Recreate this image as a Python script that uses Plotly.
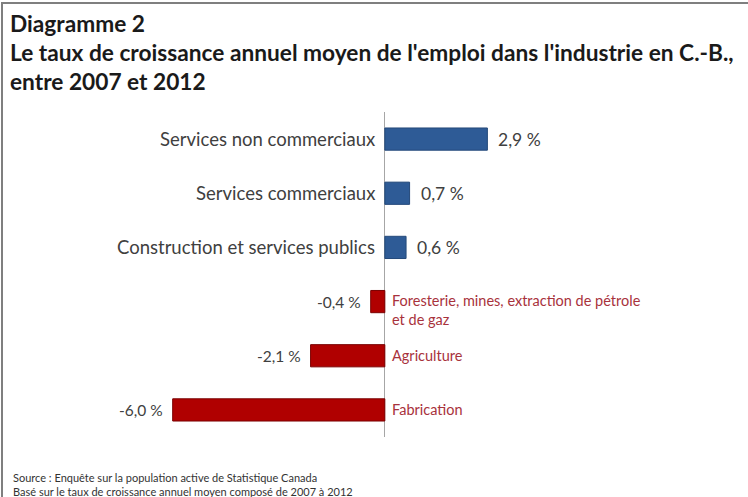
import plotly.graph_objects as go

# Data
categories = [
    "Services non commerciaux",
    "Services commerciaux",
    "Construction et services publics",
    "Foresterie, mines, extraction de pétrole<br>et de gaz",
    "Agriculture",
    "Fabrication",
]
growth = [2.9, 0.7, 0.6, -0.4, -2.1, -6.0]
value_labels = ["2,9 %", "0,7 %", "0,6 %", "-0,4 %", "-2,1 %", "-6,0 %"]

title_lines = [
    "Diagramme 2",
    "Le taux de croissance annuel moyen de l'emploi dans l'industrie en C.-B.,",
    "entre 2007 et 2012",
]
source_lines = [
    "Source : Enquête sur la population active de Statistique Canada",
    "Basé sur le taux de croissance annuel moyen composé de 2007 à 2012",
]

W, H = 748, 497
ML, MR, MT, MB = 155, 151, 112, 60
PW, PH = W - ML - MR, H - MT - MB

BLUE = "#2E5B96"
RED = "#B00000"
RED_TEXT = "#A8323C"
DARK = "#404040"
FONT = "Lato"


def px(x, y):
    """Convert page pixels to paper coordinates."""
    return (x - ML) / PW, 1 - (y - MT) / PH


colors = [BLUE if v >= 0 else RED for v in growth]
line_colors = ["#24497A" if v >= 0 else "#7A0000" for v in growth]

fig = go.Figure(
    go.Bar(
        x=growth,
        y=categories,
        orientation="h",
        marker=dict(color=colors, line=dict(color=line_colors, width=1)),
        width=0.41,
        hoverinfo="skip",
    )
)

annotations = []
for cat, v, lab in zip(categories, growth, value_labels):
    # category name beside the zero line
    if v >= 0:
        annotations.append(dict(
            x=0, y=cat, xref="x", yref="y", text=cat, showarrow=False,
            xanchor="right", xshift=-8, font=dict(family=FONT, size=18.5, color=DARK),
        ))
    else:
        multi = "<br>" in cat
        annotations.append(dict(
            x=0, y=cat, xref="x", yref="y", text=cat, showarrow=False,
            xanchor="left", xshift=5, align="left",
            yanchor="top" if multi else "middle", yshift=12 if multi else 0,
            font=dict(family=FONT, size=14.5, color=RED_TEXT),
        ))
    # value label at the bar end
    annotations.append(dict(
        x=v, y=cat, xref="x", yref="y", text=lab, showarrow=False,
        xanchor="left" if v >= 0 else "right", xshift=9 if v >= 0 else -8,
        font=dict(family=FONT, size=17.5 if v >= 0 else 15.5, color=DARK),
    ))

for text, ypix in zip(title_lines, [24, 52, 81]):
    xp, yp = px(8, ypix)
    annotations.append(dict(
        x=xp, y=yp, xref="paper", yref="paper", text=f"<b>{text}</b>", showarrow=False,
        xanchor="left", yanchor="middle", font=dict(family=FONT, size=22.7, color="#1a1a1a"),
    ))

for text, ypix in zip(source_lines, [477, 491]):
    xp, yp = px(11, ypix)
    annotations.append(dict(
        x=xp, y=yp, xref="paper", yref="paper", text=text, showarrow=False,
        xanchor="left", yanchor="middle", font=dict(family=FONT, size=11, color="#333333"),
    ))

# Frame around the figure (top and left edges visible)
x0, y0 = px(2, 3)
x1, y1 = px(W + 10, H + 10)
shapes = [dict(type="rect", xref="paper", yref="paper", x0=x0, y0=y1, x1=x1, y1=y0,
               line=dict(color="#7F7F7F", width=2))]

fig.update_layout(
    width=W, height=H,
    margin=dict(l=ML, r=MR, t=MT, b=MB),
    paper_bgcolor="white", plot_bgcolor="white",
    showlegend=False,
    annotations=annotations,
    shapes=shapes,
    xaxis=dict(range=[-6.5, 6.0], showgrid=False, showticklabels=False, ticks="",
               zeroline=True, zerolinecolor="#A6A6A6", zerolinewidth=1, fixedrange=True),
    yaxis=dict(categoryorder="array", categoryarray=categories, autorange="reversed",
               showticklabels=False, showgrid=False, ticks="", zeroline=False),
)

fig.write_html("out.html")
